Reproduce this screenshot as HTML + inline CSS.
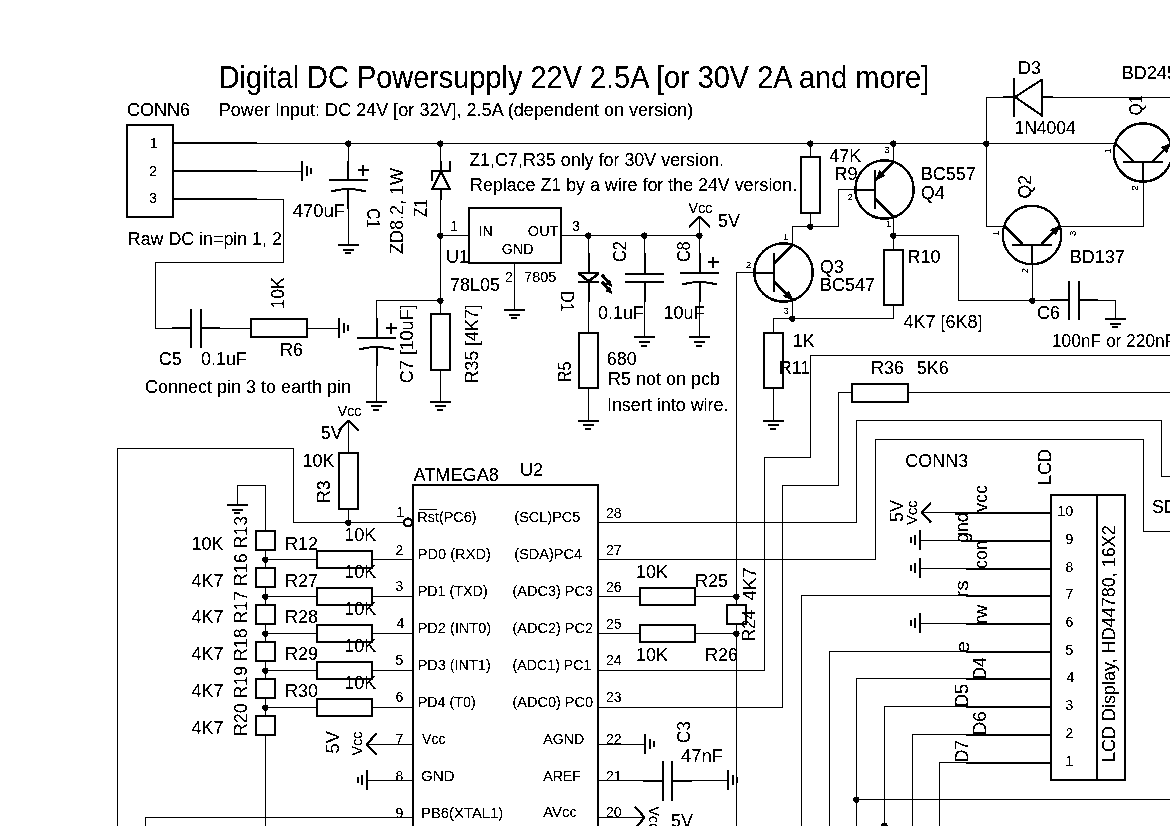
<!DOCTYPE html>
<html><head><meta charset="utf-8"><style>
html,body{margin:0;padding:0;background:#fff;width:1170px;height:826px;overflow:hidden}
svg{display:block;filter:grayscale(1) brightness(0.85) contrast(1000);}
text{font-family:"Liberation Sans", sans-serif;fill:#000}
</style></head><body>
<svg width="1170" height="826" viewBox="0 0 1170 826">
<rect width="1170" height="826" fill="#fff"/>
<g fill="#000">
<text x="218.70" y="88" font-size="30.5" textLength="710.53" lengthAdjust="spacingAndGlyphs">Digital DC Powersupply 22V 2.5A [or 30V 2A and more]</text>
<text x="218.80" y="116" font-size="18" textLength="474.50" lengthAdjust="spacingAndGlyphs">Power Input: DC 24V [or 32V], 2.5A (dependent on version)</text>
<text x="126.90" y="116" font-size="18" textLength="63.22" lengthAdjust="spacingAndGlyphs">CONN6</text>
<rect x="126" y="124" width="48" height="2"/>
<rect x="126" y="216" width="48" height="2"/>
<rect x="126" y="124" width="2" height="94"/>
<rect x="172" y="124" width="2" height="94"/>
<text x="149.70" y="148" font-size="14">1</text>
<text x="149.20" y="176" font-size="14">2</text>
<text x="149.20" y="203" font-size="14">3</text>
<rect x="174" y="142" width="83" height="2"/>
<rect x="256" y="143" width="859" height="1"/>
<rect x="174" y="170" width="83" height="2"/>
<rect x="256" y="171" width="46" height="1"/>
<rect x="301" y="161" width="2" height="20"/>
<rect x="306" y="166" width="2" height="10"/>
<rect x="310" y="168" width="2" height="6"/>
<rect x="174" y="198" width="83" height="2"/>
<rect x="256" y="199" width="28" height="1"/>
<rect x="283" y="199" width="1" height="64"/>
<rect x="155" y="262" width="129" height="1"/>
<rect x="155" y="262" width="1" height="67"/>
<rect x="155" y="328" width="18" height="1"/>
<rect x="172" y="327" width="19" height="2"/>
<rect x="190" y="309" width="2" height="39"/>
<rect x="200" y="309" width="2" height="39"/>
<rect x="202" y="327" width="18" height="2"/>
<rect x="219" y="328" width="32" height="1"/>
<text x="158.80" y="365" font-size="18">C5</text>
<text x="201.00" y="365" font-size="18">0.1uF</text>
<rect x="250" y="318" width="58" height="2"/>
<rect x="250" y="336" width="58" height="2"/>
<rect x="250" y="318" width="2" height="20"/>
<rect x="306" y="318" width="2" height="20"/>
<rect x="307" y="328" width="32" height="1"/>
<rect x="338" y="318" width="2" height="20"/>
<rect x="343" y="323" width="2" height="10"/>
<rect x="347" y="325" width="2" height="6"/>
<text transform="translate(284.45,308.68) rotate(-90)" x="0" y="0" font-size="18" textLength="31.50" lengthAdjust="spacingAndGlyphs">10K</text>
<text x="279.90" y="356" font-size="18">R6</text>
<text x="127.81" y="245" font-size="18" textLength="154.06" lengthAdjust="spacingAndGlyphs">Raw DC in=pin 1, 2</text>
<text x="145.00" y="393" font-size="18" textLength="205.94" lengthAdjust="spacingAndGlyphs">Connect pin 3 to earth pin</text>
<circle cx="348.5" cy="143.5" r="3.1"/>
<rect x="348" y="143" width="1" height="37"/>
<rect x="347" y="161" width="2" height="19"/>
<rect x="329" y="179" width="39" height="2"/>
<path d="M331,191.5 Q348.5,186.5 366,191.5" fill="none" stroke="#000" stroke-width="2"/>
<rect x="347" y="189" width="2" height="20"/>
<rect x="348" y="208" width="1" height="37"/>
<rect x="338" y="244" width="21" height="2"/>
<rect x="343" y="249" width="11" height="2"/>
<rect x="345" y="252" width="6" height="2"/>
<rect x="358" y="169" width="11" height="2"/>
<rect x="362" y="165" width="2" height="11"/>
<text x="292.80" y="217" font-size="18" textLength="52.07" lengthAdjust="spacingAndGlyphs">470uF</text>
<text transform="translate(367.00,208.14) rotate(90)" x="0" y="0" font-size="18" textLength="19.73" lengthAdjust="spacingAndGlyphs">C1</text>
<circle cx="440.5" cy="143.5" r="3.1"/>
<rect x="440" y="143" width="1" height="29"/>
<rect x="440" y="189" width="1" height="112"/>
<rect x="440" y="161" width="2" height="11"/>
<rect x="431" y="170" width="20" height="2"/>
<rect x="431" y="170" width="2" height="11"/>
<rect x="449" y="161" width="2" height="11"/>
<line x1="441" y1="172" x2="432" y2="189" stroke="#000" stroke-width="2"/>
<line x1="441" y1="172" x2="450" y2="189" stroke="#000" stroke-width="2"/>
<rect x="431" y="188" width="20" height="2"/>
<rect x="440" y="189" width="2" height="11"/>
<text transform="translate(402.50,254.00) rotate(-90)" x="0" y="0" font-size="18" textLength="86.03" lengthAdjust="spacingAndGlyphs">ZD8.2, 1W</text>
<text transform="translate(427.00,217.00) rotate(-90)" x="0" y="0" font-size="18" textLength="17.86" lengthAdjust="spacingAndGlyphs">Z1</text>
<circle cx="440.5" cy="235.5" r="3.1"/>
<rect x="440" y="235" width="29" height="1"/>
<text x="450.20" y="231" font-size="14">1</text>
<rect x="468" y="207" width="94" height="2"/>
<rect x="468" y="262" width="94" height="2"/>
<rect x="468" y="207" width="2" height="57"/>
<rect x="560" y="207" width="2" height="57"/>
<text x="478.70" y="236" font-size="14">IN</text>
<text x="527.86" y="236" font-size="14" textLength="30.83" lengthAdjust="spacingAndGlyphs">OUT</text>
<text x="501.89" y="254" font-size="14" textLength="31.55" lengthAdjust="spacingAndGlyphs">GND</text>
<text x="446.00" y="263" font-size="18">U1</text>
<text x="449.90" y="291" font-size="18" textLength="50.17" lengthAdjust="spacingAndGlyphs">78L05</text>
<text x="505.00" y="282" font-size="14">2</text>
<text x="524.06" y="282" font-size="14" textLength="32.34" lengthAdjust="spacingAndGlyphs">7805</text>
<rect x="514" y="263" width="1" height="47"/>
<rect x="504" y="309" width="21" height="2"/>
<rect x="509" y="314" width="11" height="2"/>
<rect x="511" y="317" width="6" height="2"/>
<rect x="561" y="235" width="139" height="1"/>
<text x="572.10" y="231" font-size="14">3</text>
<circle cx="588.5" cy="235.5" r="3.1"/>
<circle cx="644.5" cy="235.5" r="3.1"/>
<circle cx="699.5" cy="235.5" r="3.1"/>
<rect x="699" y="216" width="1" height="20"/>
<line x1="689" y1="227" x2="699.5" y2="217" stroke="#000" stroke-width="2"/>
<line x1="699.5" y1="217" x2="710" y2="227" stroke="#000" stroke-width="2"/>
<text x="688.60" y="213" font-size="14" textLength="23.85" lengthAdjust="spacingAndGlyphs">Vcc</text>
<text x="718.00" y="227" font-size="18">5V</text>
<text x="469.20" y="166" font-size="18" textLength="254.71" lengthAdjust="spacingAndGlyphs">Z1,C7,R35 only for 30V version.</text>
<text x="470.01" y="191" font-size="18" textLength="327.15" lengthAdjust="spacingAndGlyphs">Replace Z1 by a wire for the 24V version.</text>
<rect x="588" y="235" width="1" height="38"/>
<rect x="588" y="283" width="1" height="50"/>
<rect x="588" y="253" width="2" height="20"/>
<rect x="578" y="272" width="21" height="2"/>
<line x1="579" y1="273.5" x2="589" y2="281.5" stroke="#000" stroke-width="2.5"/>
<line x1="598" y1="273.5" x2="589" y2="281.5" stroke="#000" stroke-width="2.5"/>
<rect x="578" y="281" width="21" height="2"/>
<rect x="588" y="283" width="2" height="19"/>
<line x1="602" y1="275" x2="610" y2="284" stroke="#000" stroke-width="3"/>
<line x1="602" y1="282" x2="610" y2="291" stroke="#000" stroke-width="3"/>
<polygon points="612.5,287 605.5,284 610,280" fill="#000"/>
<polygon points="612.5,294 605.5,291 610,287" fill="#000"/>
<text transform="translate(561.00,291.10) rotate(90)" x="0" y="0" font-size="18" textLength="20.82" lengthAdjust="spacingAndGlyphs">D1</text>
<rect x="578" y="332" width="21" height="2"/>
<rect x="578" y="387" width="21" height="2"/>
<rect x="578" y="332" width="2" height="57"/>
<rect x="597" y="332" width="2" height="57"/>
<rect x="588" y="388" width="1" height="33"/>
<rect x="578" y="420" width="21" height="2"/>
<rect x="583" y="424" width="11" height="2"/>
<rect x="585" y="428" width="6" height="2"/>
<text transform="translate(570.60,382.41) rotate(-90)" x="0" y="0" font-size="18" textLength="21.04" lengthAdjust="spacingAndGlyphs">R5</text>
<text x="606.80" y="365" font-size="18">680</text>
<text x="607.90" y="385" font-size="18" textLength="112.08" lengthAdjust="spacingAndGlyphs">R5 not on pcb</text>
<text x="606.91" y="411" font-size="18" textLength="121.63" lengthAdjust="spacingAndGlyphs">Insert into wire.</text>
<rect x="644" y="235" width="1" height="39"/>
<rect x="644" y="253" width="2" height="21"/>
<rect x="625" y="273" width="39" height="2"/>
<rect x="625" y="281" width="39" height="2"/>
<rect x="644" y="282" width="1" height="55"/>
<rect x="644" y="283" width="2" height="19"/>
<rect x="634" y="336" width="21" height="2"/>
<rect x="639" y="341" width="11" height="2"/>
<rect x="641" y="345" width="6" height="2"/>
<text transform="translate(626.25,261.90) rotate(-90)" x="0" y="0" font-size="18" textLength="20.82" lengthAdjust="spacingAndGlyphs">C2</text>
<text x="597.90" y="319" font-size="18">0.1uF</text>
<rect x="699" y="235" width="1" height="39"/>
<rect x="699" y="253" width="2" height="21"/>
<rect x="680" y="272" width="39" height="2"/>
<path d="M682,284.5 Q699.5,279.5 717,284.5" fill="none" stroke="#000" stroke-width="2"/>
<rect x="699" y="284" width="1" height="53"/>
<rect x="699" y="283" width="2" height="19"/>
<rect x="689" y="336" width="21" height="2"/>
<rect x="694" y="341" width="11" height="2"/>
<rect x="696" y="345" width="6" height="2"/>
<rect x="708" y="261" width="11" height="2"/>
<rect x="712" y="257" width="2" height="11"/>
<text transform="translate(690.20,261.90) rotate(-90)" x="0" y="0" font-size="18" textLength="20.82" lengthAdjust="spacingAndGlyphs">C8</text>
<text x="663.60" y="319" font-size="18">10uF</text>
<circle cx="440.5" cy="300.5" r="3.1"/>
<rect x="376" y="300" width="65" height="1"/>
<rect x="376" y="300" width="1" height="38"/>
<rect x="376" y="318" width="2" height="20"/>
<rect x="376" y="348" width="2" height="18"/>
<rect x="357" y="337" width="39" height="2"/>
<path d="M359,349.5 Q376.5,344.5 394,349.5" fill="none" stroke="#000" stroke-width="2"/>
<rect x="376" y="349" width="1" height="53"/>
<rect x="366" y="401" width="21" height="2"/>
<rect x="371" y="405" width="11" height="2"/>
<rect x="373" y="409" width="6" height="2"/>
<rect x="386" y="327" width="11" height="2"/>
<rect x="390" y="323" width="2" height="11"/>
<rect x="440" y="300" width="1" height="14"/>
<rect x="430" y="313" width="21" height="2"/>
<rect x="430" y="369" width="21" height="2"/>
<rect x="430" y="313" width="2" height="58"/>
<rect x="449" y="313" width="2" height="58"/>
<rect x="440" y="370" width="1" height="32"/>
<rect x="430" y="401" width="21" height="2"/>
<rect x="435" y="405" width="11" height="2"/>
<rect x="437" y="409" width="6" height="2"/>
<text transform="translate(412.80,383.19) rotate(-90)" x="0" y="0" font-size="18" textLength="78.64" lengthAdjust="spacingAndGlyphs">C7 [10uF]</text>
<text transform="translate(478.15,383.18) rotate(-90)" x="0" y="0" font-size="18" textLength="78.63" lengthAdjust="spacingAndGlyphs">R35 [4K7]</text>
<circle cx="810.5" cy="143.5" r="3.1"/>
<rect x="810" y="143" width="1" height="14"/>
<rect x="800" y="156" width="21" height="2"/>
<rect x="800" y="212" width="21" height="2"/>
<rect x="800" y="156" width="2" height="58"/>
<rect x="819" y="156" width="2" height="58"/>
<rect x="810" y="213" width="1" height="14"/>
<circle cx="810.5" cy="226.5" r="3.1"/>
<rect x="792" y="226" width="19" height="1"/>
<rect x="792" y="226" width="1" height="20"/>
<rect x="810" y="226" width="29" height="1"/>
<rect x="838" y="189" width="1" height="38"/>
<rect x="838" y="189" width="18" height="1"/>
<text x="829.20" y="162" font-size="18">47K</text>
<text x="834.60" y="180" font-size="18">R9</text>
<g transform="translate(884.5,189.5) rotate(0)" stroke="#000" stroke-width="2" fill="none">
<circle cx="0" cy="0" r="29.2" stroke-width="2.2"/>
<line x1="-9.5" y1="-19.5" x2="-9.5" y2="19.5"/>
<line x1="-29" y1="0.5" x2="-9.5" y2="0.5"/>
<line x1="-9.5" y1="-9" x2="9" y2="-27.5"/>
<line x1="-9.5" y1="9" x2="9" y2="27.5"/>
<polygon points="-8.5,-10 0.4,-13.9 -4.6,-18.9" fill="#000" stroke-width="1"/>
</g>
<circle cx="893.5" cy="143.5" r="3.1"/>
<rect x="893" y="143" width="1" height="20"/>
<rect x="893" y="217" width="1" height="19"/>
<circle cx="893.5" cy="235.5" r="3.1"/>
<text x="884.30" y="153" font-size="9.5">3</text>
<text x="847.40" y="200" font-size="9.5">2</text>
<text x="885.80" y="227" font-size="9.5">1</text>
<text x="920.70" y="180" font-size="18" textLength="55.25" lengthAdjust="spacingAndGlyphs">BC557</text>
<text x="920.70" y="199" font-size="18">Q4</text>
<rect x="893" y="235" width="66" height="1"/>
<rect x="958" y="235" width="1" height="66"/>
<rect x="958" y="300" width="93" height="1"/>
<circle cx="1032.5" cy="300.5" r="3.1"/>
<rect x="893" y="235" width="1" height="15"/>
<rect x="883" y="249" width="21" height="2"/>
<rect x="883" y="304" width="21" height="2"/>
<rect x="883" y="249" width="2" height="57"/>
<rect x="902" y="249" width="2" height="57"/>
<rect x="893" y="305" width="1" height="14"/>
<rect x="773" y="318" width="121" height="1"/>
<text x="907.50" y="263" font-size="18">R10</text>
<text x="903.50" y="328" font-size="18">4K7 [6K8]</text>
<g transform="translate(783.5,272.5) rotate(0)" stroke="#000" stroke-width="2" fill="none">
<circle cx="0" cy="0" r="29.2" stroke-width="2.2"/>
<line x1="-9.5" y1="-19.5" x2="-9.5" y2="19.5"/>
<line x1="-29" y1="0.5" x2="-9.5" y2="0.5"/>
<line x1="-9.5" y1="-9" x2="9" y2="-27.5"/>
<line x1="-9.5" y1="9" x2="9" y2="27.5"/>
<polygon points="9,27.5 0.1,23.6 5.1,18.6" fill="#000" stroke-width="1"/>
</g>
<rect x="792" y="300" width="1" height="19"/>
<circle cx="792.5" cy="318.5" r="3.1"/>
<text x="783.00" y="240" font-size="9.5">1</text>
<text x="745.90" y="268" font-size="9.5">2</text>
<text x="783.40" y="314" font-size="9.5">3</text>
<rect x="736" y="272" width="19" height="1"/>
<rect x="736" y="272" width="1" height="333"/>
<rect x="736" y="624" width="1" height="203"/>
<text x="819.80" y="273" font-size="18">Q3</text>
<text x="820.00" y="291" font-size="18">BC547</text>
<rect x="773" y="318" width="1" height="15"/>
<rect x="763" y="332" width="21" height="2"/>
<rect x="763" y="387" width="21" height="2"/>
<rect x="763" y="332" width="2" height="57"/>
<rect x="782" y="332" width="2" height="57"/>
<rect x="773" y="388" width="1" height="33"/>
<rect x="763" y="420" width="21" height="2"/>
<rect x="768" y="424" width="11" height="2"/>
<rect x="770" y="428" width="6" height="2"/>
<text x="792.80" y="347" font-size="18">1K</text>
<text x="778.70" y="374" font-size="18">R11</text>
<circle cx="986.5" cy="143.5" r="3.1"/>
<rect x="986" y="97" width="1" height="130"/>
<rect x="986" y="97" width="18" height="1"/>
<rect x="1003" y="96" width="12" height="2"/>
<rect x="1013" y="78" width="2" height="39"/>
<line x1="1015" y1="97" x2="1042" y2="79.5" stroke="#000" stroke-width="2"/>
<line x1="1015" y1="97" x2="1042" y2="115.5" stroke="#000" stroke-width="2"/>
<rect x="1041" y="79" width="2" height="38"/>
<rect x="1042" y="96" width="11" height="2"/>
<rect x="1052" y="97" width="119" height="1"/>
<text x="1017.90" y="74" font-size="18">D3</text>
<text x="1014.53" y="134" font-size="18" textLength="61.13" lengthAdjust="spacingAndGlyphs">1N4004</text>
<text x="1121.80" y="79" font-size="18">BD245</text>
<g transform="translate(1143,152.5) rotate(-90)" stroke="#000" stroke-width="2" fill="none">
<circle cx="0" cy="0" r="29.2" stroke-width="2.2"/>
<line x1="-9.5" y1="-19.5" x2="-9.5" y2="19.5"/>
<line x1="-29" y1="0" x2="-9.5" y2="0"/>
<line x1="-9.5" y1="-9" x2="9" y2="-27.5"/>
<line x1="-9.5" y1="9" x2="9" y2="27.5"/>
<polygon points="9,27.5 0.1,23.6 5.1,18.6" fill="#000" stroke-width="1"/>
</g>
<rect x="1143" y="182" width="1" height="45"/>
<rect x="1061" y="226" width="83" height="1"/>
<text transform="translate(1141.65,115.34) rotate(-90)" x="0" y="0" font-size="18" textLength="20.19" lengthAdjust="spacingAndGlyphs">Q1</text>
<text transform="translate(1110.50,153.60) rotate(-90)" x="0" y="0" font-size="9.5">1</text>
<text transform="translate(1138.40,190.70) rotate(-90)" x="0" y="0" font-size="9.5">2</text>
<g transform="translate(1032,235) rotate(-90)" stroke="#000" stroke-width="2" fill="none">
<circle cx="0" cy="0" r="29.2" stroke-width="2.2"/>
<line x1="-10" y1="-19.5" x2="-10" y2="19.5"/>
<line x1="-29" y1="0" x2="-10" y2="0"/>
<line x1="-9.5" y1="-9" x2="9" y2="-27.5"/>
<line x1="-9.5" y1="9" x2="9" y2="27.5"/>
<polygon points="9,27.5 0.1,23.6 5.1,18.6" fill="#000" stroke-width="1"/>
</g>
<rect x="986" y="226" width="18" height="1"/>
<rect x="1032" y="265" width="1" height="36"/>
<text transform="translate(1030.50,198.48) rotate(-90)" x="0" y="0" font-size="18" textLength="23.58" lengthAdjust="spacingAndGlyphs">Q2</text>
<text x="1069.70" y="263" font-size="18">BD137</text>
<text transform="translate(999.25,236.00) rotate(-90)" x="0" y="0" font-size="9.5">1</text>
<text transform="translate(1075.70,235.90) rotate(-90)" x="0" y="0" font-size="9.5">3</text>
<text transform="translate(1027.60,273.20) rotate(-90)" x="0" y="0" font-size="9.5">2</text>
<rect x="1050" y="299" width="19" height="2"/>
<rect x="1068" y="281" width="2" height="39"/>
<rect x="1078" y="281" width="2" height="39"/>
<rect x="1080" y="299" width="18" height="2"/>
<rect x="1097" y="300" width="19" height="1"/>
<rect x="1115" y="300" width="1" height="19"/>
<rect x="1105" y="318" width="21" height="2"/>
<rect x="1110" y="323" width="11" height="2"/>
<rect x="1112" y="326" width="6" height="2"/>
<text x="1036.90" y="319" font-size="18">C6</text>
<text x="1051.94" y="347" font-size="18" textLength="123.32" lengthAdjust="spacingAndGlyphs">100nF or 220nF</text>
<rect x="810" y="355" width="361" height="1"/>
<rect x="810" y="355" width="1" height="103"/>
<rect x="764" y="457" width="47" height="1"/>
<rect x="764" y="457" width="1" height="214"/>
<rect x="598" y="670" width="167" height="1"/>
<rect x="838" y="392" width="14" height="1"/>
<rect x="851" y="383" width="58" height="2"/>
<rect x="851" y="401" width="58" height="2"/>
<rect x="851" y="383" width="2" height="20"/>
<rect x="907" y="383" width="2" height="20"/>
<rect x="908" y="392" width="263" height="1"/>
<rect x="838" y="392" width="1" height="94"/>
<rect x="782" y="485" width="57" height="1"/>
<rect x="782" y="485" width="1" height="223"/>
<rect x="598" y="707" width="185" height="1"/>
<text x="870.90" y="374" font-size="18">R36</text>
<text x="916.70" y="374" font-size="18">5K6</text>
<rect x="856" y="420" width="306" height="1"/>
<rect x="1161" y="420" width="1" height="57"/>
<rect x="1161" y="476" width="10" height="1"/>
<rect x="856" y="420" width="1" height="103"/>
<rect x="598" y="522" width="259" height="1"/>
<rect x="875" y="439" width="269" height="1"/>
<rect x="1143" y="439" width="1" height="93"/>
<rect x="1143" y="531" width="28" height="1"/>
<rect x="875" y="439" width="1" height="121"/>
<rect x="598" y="559" width="278" height="1"/>
<text x="1152.00" y="513" font-size="18">SDA</text>
<rect x="1050" y="494" width="76" height="2"/>
<rect x="1050" y="779" width="76" height="2"/>
<rect x="1050" y="494" width="2" height="287"/>
<rect x="1124" y="494" width="2" height="287"/>
<rect x="1096" y="494" width="2" height="287"/>
<text x="905.20" y="467" font-size="18" textLength="63.02" lengthAdjust="spacingAndGlyphs">CONN3</text>
<text transform="translate(1051.35,485.11) rotate(-90)" x="0" y="0" font-size="18" textLength="36.23" lengthAdjust="spacingAndGlyphs">LCD</text>
<rect x="966" y="762" width="85" height="2"/>
<text x="1065.60" y="766" font-size="14">1</text>
<rect x="966" y="734" width="85" height="2"/>
<text x="1065.60" y="738" font-size="14">2</text>
<rect x="966" y="706" width="85" height="2"/>
<text x="1065.60" y="710" font-size="14">3</text>
<rect x="966" y="678" width="85" height="2"/>
<text x="1066.60" y="682" font-size="14">4</text>
<rect x="966" y="651" width="85" height="2"/>
<text x="1065.60" y="655" font-size="14">5</text>
<rect x="966" y="623" width="85" height="2"/>
<text x="1065.60" y="627" font-size="14">6</text>
<rect x="966" y="595" width="85" height="2"/>
<text x="1065.60" y="599" font-size="14">7</text>
<rect x="966" y="568" width="85" height="2"/>
<text x="1065.60" y="572" font-size="14">8</text>
<rect x="966" y="540" width="85" height="2"/>
<text x="1065.60" y="544" font-size="14">9</text>
<rect x="966" y="512" width="85" height="2"/>
<text x="1057.60" y="516" font-size="14">10</text>
<rect x="921" y="512" width="46" height="1"/>
<rect x="955" y="512" width="12" height="2"/>
<line x1="931" y1="503" x2="921.5" y2="512.5" stroke="#000" stroke-width="2"/>
<line x1="921.5" y1="512.5" x2="931" y2="522.5" stroke="#000" stroke-width="2"/>
<text transform="translate(903.05,522.00) rotate(-90)" x="0" y="0" font-size="18" textLength="22.03" lengthAdjust="spacingAndGlyphs">5V</text>
<text transform="translate(917.05,524.90) rotate(-90)" x="0" y="0" font-size="14" textLength="24.46" lengthAdjust="spacingAndGlyphs">Vcc</text>
<rect x="919" y="530" width="2" height="20"/>
<rect x="914" y="535" width="2" height="10"/>
<rect x="910" y="537" width="2" height="6"/>
<rect x="920" y="540" width="47" height="1"/>
<rect x="919" y="558" width="2" height="20"/>
<rect x="914" y="563" width="2" height="10"/>
<rect x="910" y="565" width="2" height="6"/>
<rect x="920" y="568" width="47" height="1"/>
<rect x="919" y="613" width="2" height="20"/>
<rect x="914" y="618" width="2" height="10"/>
<rect x="910" y="620" width="2" height="6"/>
<rect x="920" y="623" width="47" height="1"/>
<rect x="801" y="595" width="166" height="1"/>
<rect x="801" y="595" width="1" height="232"/>
<rect x="829" y="651" width="138" height="1"/>
<rect x="829" y="651" width="1" height="176"/>
<rect x="856" y="678" width="111" height="1"/>
<rect x="856" y="678" width="1" height="149"/>
<circle cx="856.5" cy="799.5" r="3.1"/>
<rect x="884" y="706" width="83" height="1"/>
<rect x="884" y="706" width="1" height="121"/>
<circle cx="884.5" cy="825.5" r="3.1"/>
<rect x="912" y="734" width="55" height="1"/>
<rect x="912" y="734" width="1" height="93"/>
<rect x="939" y="762" width="28" height="1"/>
<rect x="939" y="762" width="1" height="65"/>
<rect x="856" y="799" width="315" height="1"/>
<text transform="translate(986.65,511.90) rotate(-90)" x="0" y="0" font-size="18" textLength="27.00" lengthAdjust="spacingAndGlyphs">vcc</text>
<text transform="translate(968.00,542.62) rotate(-90)" x="0" y="0" font-size="18" textLength="30.69" lengthAdjust="spacingAndGlyphs">gnd</text>
<text transform="translate(986.65,568.67) rotate(-90)" x="0" y="0" font-size="18" textLength="28.06" lengthAdjust="spacingAndGlyphs">con</text>
<text transform="translate(968.40,597.35) rotate(-90)" x="0" y="0" font-size="18" textLength="17.19" lengthAdjust="spacingAndGlyphs">rs</text>
<text transform="translate(987.00,624.43) rotate(-90)" x="0" y="0" font-size="18" textLength="19.63" lengthAdjust="spacingAndGlyphs">rw</text>
<text transform="translate(968.55,653.25) rotate(-90)" x="0" y="0" font-size="18" textLength="12.52" lengthAdjust="spacingAndGlyphs">e</text>
<text transform="translate(986.25,679.56) rotate(-90)" x="0" y="0" font-size="18" textLength="22.18" lengthAdjust="spacingAndGlyphs">D4</text>
<text transform="translate(967.80,707.01) rotate(-90)" x="0" y="0" font-size="18" textLength="23.23" lengthAdjust="spacingAndGlyphs">D5</text>
<text transform="translate(986.25,735.24) rotate(-90)" x="0" y="0" font-size="18" textLength="24.00" lengthAdjust="spacingAndGlyphs">D6</text>
<text transform="translate(967.80,762.37) rotate(-90)" x="0" y="0" font-size="18" textLength="22.36" lengthAdjust="spacingAndGlyphs">D7</text>
<text transform="translate(1115.00,762.00) rotate(-90)" x="0" y="0" font-size="18" textLength="236.80" lengthAdjust="spacingAndGlyphs">LCD Display, HD44780, 16X2</text>
<rect x="412" y="484" width="187" height="2"/>
<rect x="412" y="829" width="187" height="2"/>
<rect x="412" y="484" width="2" height="347"/>
<rect x="597" y="484" width="2" height="347"/>
<text x="413.40" y="481" font-size="18" textLength="85.49" lengthAdjust="spacingAndGlyphs">ATMEGA8</text>
<text x="519.99" y="476" font-size="18" textLength="23.23" lengthAdjust="spacingAndGlyphs">U2</text>
<rect x="117" y="448" width="177" height="1"/>
<rect x="117" y="448" width="1" height="379"/>
<rect x="293" y="448" width="1" height="75"/>
<rect x="293" y="522" width="111" height="1"/>
<circle cx="408" cy="522.5" r="4" fill="none" stroke="#000" stroke-width="2"/>
<rect x="348" y="420" width="1" height="33"/>
<line x1="339" y1="430.5" x2="348.5" y2="420.5" stroke="#000" stroke-width="2"/>
<line x1="348.5" y1="420.5" x2="358.5" y2="430.5" stroke="#000" stroke-width="2"/>
<rect x="338" y="452" width="21" height="2"/>
<rect x="338" y="508" width="21" height="2"/>
<rect x="338" y="452" width="2" height="58"/>
<rect x="357" y="452" width="2" height="58"/>
<rect x="348" y="509" width="1" height="14"/>
<circle cx="348.5" cy="522.5" r="3.1"/>
<text x="337.40" y="416" font-size="14" textLength="24.26" lengthAdjust="spacingAndGlyphs">Vcc</text>
<text x="320.70" y="439" font-size="18">5V</text>
<text x="302.50" y="467" font-size="18">10K</text>
<text transform="translate(330.20,502.88) rotate(-90)" x="0" y="0" font-size="18" textLength="22.58" lengthAdjust="spacingAndGlyphs">R3</text>
<text x="396.50" y="517" font-size="14">1</text>
<rect x="227" y="504" width="21" height="2"/>
<rect x="232" y="509" width="11" height="2"/>
<rect x="234" y="512" width="6" height="2"/>
<rect x="237" y="485" width="1" height="20"/>
<rect x="237" y="485" width="29" height="1"/>
<rect x="265" y="485" width="1" height="46"/>
<rect x="255" y="530" width="21" height="2"/>
<rect x="255" y="549" width="21" height="2"/>
<rect x="255" y="530" width="2" height="21"/>
<rect x="274" y="530" width="2" height="21"/>
<rect x="265" y="550" width="1" height="18"/>
<rect x="255" y="567" width="21" height="2"/>
<rect x="255" y="586" width="21" height="2"/>
<rect x="255" y="567" width="2" height="21"/>
<rect x="274" y="567" width="2" height="21"/>
<rect x="265" y="587" width="1" height="18"/>
<rect x="255" y="604" width="21" height="2"/>
<rect x="255" y="623" width="21" height="2"/>
<rect x="255" y="604" width="2" height="21"/>
<rect x="274" y="604" width="2" height="21"/>
<rect x="265" y="624" width="1" height="18"/>
<rect x="255" y="641" width="21" height="2"/>
<rect x="255" y="660" width="21" height="2"/>
<rect x="255" y="641" width="2" height="21"/>
<rect x="274" y="641" width="2" height="21"/>
<rect x="265" y="661" width="1" height="18"/>
<rect x="255" y="678" width="21" height="2"/>
<rect x="255" y="697" width="21" height="2"/>
<rect x="255" y="678" width="2" height="21"/>
<rect x="274" y="678" width="2" height="21"/>
<rect x="265" y="698" width="1" height="18"/>
<rect x="255" y="715" width="21" height="2"/>
<rect x="255" y="734" width="21" height="2"/>
<rect x="255" y="715" width="2" height="21"/>
<rect x="274" y="715" width="2" height="21"/>
<rect x="265" y="735" width="1" height="92"/>
<circle cx="265.5" cy="559.5" r="3.1"/>
<rect x="265" y="559" width="52" height="1"/>
<rect x="316" y="550" width="57" height="2"/>
<rect x="316" y="567" width="57" height="2"/>
<rect x="316" y="550" width="2" height="19"/>
<rect x="371" y="550" width="2" height="19"/>
<rect x="372" y="559" width="41" height="1"/>
<circle cx="265.5" cy="596.5" r="3.1"/>
<rect x="265" y="596" width="52" height="1"/>
<rect x="316" y="587" width="57" height="2"/>
<rect x="316" y="604" width="57" height="2"/>
<rect x="316" y="587" width="2" height="19"/>
<rect x="371" y="587" width="2" height="19"/>
<rect x="372" y="596" width="41" height="1"/>
<circle cx="265.5" cy="633.5" r="3.1"/>
<rect x="265" y="633" width="52" height="1"/>
<rect x="316" y="624" width="57" height="2"/>
<rect x="316" y="641" width="57" height="2"/>
<rect x="316" y="624" width="2" height="19"/>
<rect x="371" y="624" width="2" height="19"/>
<rect x="372" y="633" width="41" height="1"/>
<circle cx="265.5" cy="670.5" r="3.1"/>
<rect x="265" y="670" width="52" height="1"/>
<rect x="316" y="661" width="57" height="2"/>
<rect x="316" y="678" width="57" height="2"/>
<rect x="316" y="661" width="2" height="19"/>
<rect x="371" y="661" width="2" height="19"/>
<rect x="372" y="670" width="41" height="1"/>
<circle cx="265.5" cy="707.5" r="3.1"/>
<rect x="265" y="707" width="52" height="1"/>
<rect x="316" y="698" width="57" height="2"/>
<rect x="316" y="715" width="57" height="2"/>
<rect x="316" y="698" width="2" height="19"/>
<rect x="371" y="698" width="2" height="19"/>
<rect x="372" y="707" width="41" height="1"/>
<text x="344.20" y="541" font-size="18">10K</text>
<text x="344.20" y="578" font-size="18">10K</text>
<text x="344.20" y="615" font-size="18">10K</text>
<text x="344.20" y="652" font-size="18">10K</text>
<text x="344.20" y="689" font-size="18">10K</text>
<text x="191.50" y="550" font-size="18">10K</text>
<text x="191.40" y="587" font-size="18">4K7</text>
<text x="191.40" y="623" font-size="18">4K7</text>
<text x="191.40" y="660" font-size="18">4K7</text>
<text x="191.40" y="697" font-size="18">4K7</text>
<text x="191.40" y="734" font-size="18">4K7</text>
<text x="285.00" y="550" font-size="18">R12</text>
<text x="285.00" y="587" font-size="18">R27</text>
<text x="285.00" y="623" font-size="18">R28</text>
<text x="285.00" y="660" font-size="18">R29</text>
<text x="285.00" y="697" font-size="18">R30</text>
<text transform="translate(247.20,735.99) rotate(-90)" x="0" y="0" font-size="18" textLength="220.11" lengthAdjust="spacingAndGlyphs">R20 R19 R18 R17 R16 R13</text>
<rect x="366" y="744" width="47" height="1"/>
<line x1="376.5" y1="733.5" x2="366.5" y2="744.5" stroke="#000" stroke-width="2"/>
<line x1="366.5" y1="744.5" x2="376.5" y2="754.5" stroke="#000" stroke-width="2"/>
<text transform="translate(362.35,755.60) rotate(-90)" x="0" y="0" font-size="14" textLength="23.95" lengthAdjust="spacingAndGlyphs">Vcc</text>
<text transform="translate(339.30,753.42) rotate(-90)" x="0" y="0" font-size="18" textLength="22.45" lengthAdjust="spacingAndGlyphs">5V</text>
<rect x="366" y="770" width="2" height="20"/>
<rect x="361" y="775" width="2" height="10"/>
<rect x="357" y="777" width="2" height="6"/>
<rect x="367" y="780" width="46" height="1"/>
<rect x="145" y="817" width="268" height="1"/>
<rect x="145" y="817" width="1" height="10"/>
<text x="395.50" y="555" font-size="14">2</text>
<text x="395.50" y="591" font-size="14">3</text>
<text x="396.50" y="628" font-size="14">4</text>
<text x="395.50" y="665" font-size="14">5</text>
<text x="395.50" y="702" font-size="14">6</text>
<text x="395.50" y="744" font-size="14">7</text>
<text x="395.50" y="781" font-size="14">8</text>
<text x="395.50" y="818" font-size="14">9</text>
<text x="417.37" y="522" font-size="14" textLength="59.10" lengthAdjust="spacingAndGlyphs">Rst(PC6)</text>
<rect x="419" y="509" width="18" height="1"/>
<text x="417.65" y="559" font-size="14" textLength="73.21" lengthAdjust="spacingAndGlyphs">PD0 (RXD)</text>
<text x="417.68" y="596" font-size="14" textLength="69.99" lengthAdjust="spacingAndGlyphs">PD1 (TXD)</text>
<text x="417.66" y="633" font-size="14" textLength="73.46" lengthAdjust="spacingAndGlyphs">PD2 (INT0)</text>
<text x="417.67" y="670" font-size="14" textLength="73.05" lengthAdjust="spacingAndGlyphs">PD3 (INT1)</text>
<text x="417.68" y="707" font-size="14" textLength="58.14" lengthAdjust="spacingAndGlyphs">PD4 (T0)</text>
<text x="422.10" y="744" font-size="14">Vcc</text>
<text x="421.02" y="781" font-size="14" textLength="33.70" lengthAdjust="spacingAndGlyphs">GND</text>
<text x="421.04" y="818" font-size="14" textLength="82.24" lengthAdjust="spacingAndGlyphs">PB6(XTAL1)</text>
<text x="514.37" y="522" font-size="14" textLength="65.96" lengthAdjust="spacingAndGlyphs">(SCL)PC5</text>
<text x="514.37" y="559" font-size="14" textLength="67.61" lengthAdjust="spacingAndGlyphs">(SDA)PC4</text>
<text x="512.46" y="596" font-size="14" textLength="80.56" lengthAdjust="spacingAndGlyphs">(ADC3) PC3</text>
<text x="512.46" y="633" font-size="14" textLength="80.56" lengthAdjust="spacingAndGlyphs">(ADC2) PC2</text>
<text x="512.48" y="670" font-size="14" textLength="79.03" lengthAdjust="spacingAndGlyphs">(ADC1) PC1</text>
<text x="512.46" y="707" font-size="14" textLength="80.56" lengthAdjust="spacingAndGlyphs">(ADC0) PC0</text>
<text x="543.20" y="744" font-size="14" textLength="41.06" lengthAdjust="spacingAndGlyphs">AGND</text>
<text x="543.20" y="781" font-size="14" textLength="37.75" lengthAdjust="spacingAndGlyphs">AREF</text>
<text x="543.20" y="817" font-size="14" textLength="33.78" lengthAdjust="spacingAndGlyphs">AVcc</text>
<text x="606.00" y="518" font-size="14">28</text>
<text x="606.00" y="555" font-size="14">27</text>
<text x="606.00" y="592" font-size="14">26</text>
<text x="606.00" y="629" font-size="14">25</text>
<text x="606.00" y="665" font-size="14">24</text>
<text x="606.00" y="702" font-size="14">23</text>
<text x="606.00" y="744" font-size="14">22</text>
<text x="606.00" y="781" font-size="14">21</text>
<text x="606.00" y="817" font-size="14">20</text>
<rect x="598" y="596" width="42" height="1"/>
<rect x="639" y="587" width="57" height="2"/>
<rect x="639" y="604" width="57" height="2"/>
<rect x="639" y="587" width="2" height="19"/>
<rect x="694" y="587" width="2" height="19"/>
<rect x="695" y="596" width="42" height="1"/>
<circle cx="736.5" cy="596.5" r="3.1"/>
<rect x="598" y="633" width="42" height="1"/>
<rect x="639" y="624" width="57" height="2"/>
<rect x="639" y="641" width="57" height="2"/>
<rect x="639" y="624" width="2" height="19"/>
<rect x="694" y="624" width="2" height="19"/>
<rect x="695" y="633" width="42" height="1"/>
<circle cx="736.5" cy="633.5" r="3.1"/>
<rect x="726" y="604" width="21" height="2"/>
<rect x="726" y="623" width="21" height="2"/>
<rect x="726" y="604" width="2" height="21"/>
<rect x="745" y="604" width="2" height="21"/>
<text x="636.00" y="578" font-size="18">10K</text>
<text x="694.90" y="587" font-size="18">R25</text>
<text x="636.00" y="661" font-size="18">10K</text>
<text x="704.90" y="661" font-size="18">R26</text>
<text transform="translate(755.70,600.40) rotate(-90)" x="0" y="0" font-size="18" textLength="33.06" lengthAdjust="spacingAndGlyphs">4K7</text>
<text transform="translate(755.15,640.94) rotate(-90)" x="0" y="0" font-size="18" textLength="30.97" lengthAdjust="spacingAndGlyphs">R24</text>
<rect x="598" y="744" width="47" height="1"/>
<rect x="644" y="734" width="2" height="20"/>
<rect x="649" y="739" width="2" height="10"/>
<rect x="653" y="741" width="2" height="6"/>
<rect x="598" y="780" width="46" height="1"/>
<rect x="643" y="780" width="19" height="2"/>
<rect x="662" y="761" width="2" height="40"/>
<rect x="671" y="761" width="2" height="40"/>
<rect x="673" y="780" width="19" height="2"/>
<rect x="691" y="780" width="37" height="1"/>
<rect x="727" y="770" width="2" height="20"/>
<rect x="732" y="775" width="2" height="10"/>
<rect x="736" y="777" width="2" height="6"/>
<rect x="598" y="817" width="47" height="1"/>
<line x1="635" y1="806.5" x2="644.5" y2="817.5" stroke="#000" stroke-width="2"/>
<line x1="644.5" y1="817.5" x2="635" y2="828.5" stroke="#000" stroke-width="2"/>
<text transform="translate(648.80,806.50) rotate(90)" x="0" y="0" font-size="14" textLength="23.85" lengthAdjust="spacingAndGlyphs">Vcc</text>
<text x="671.00" y="827" font-size="18">5V</text>
<text transform="translate(690.20,743.37) rotate(-90)" x="0" y="0" font-size="18" textLength="22.36" lengthAdjust="spacingAndGlyphs">C3</text>
<text x="680.90" y="762" font-size="18" textLength="42.06" lengthAdjust="spacingAndGlyphs">47nF</text>
</g>
</svg>
</body></html>
